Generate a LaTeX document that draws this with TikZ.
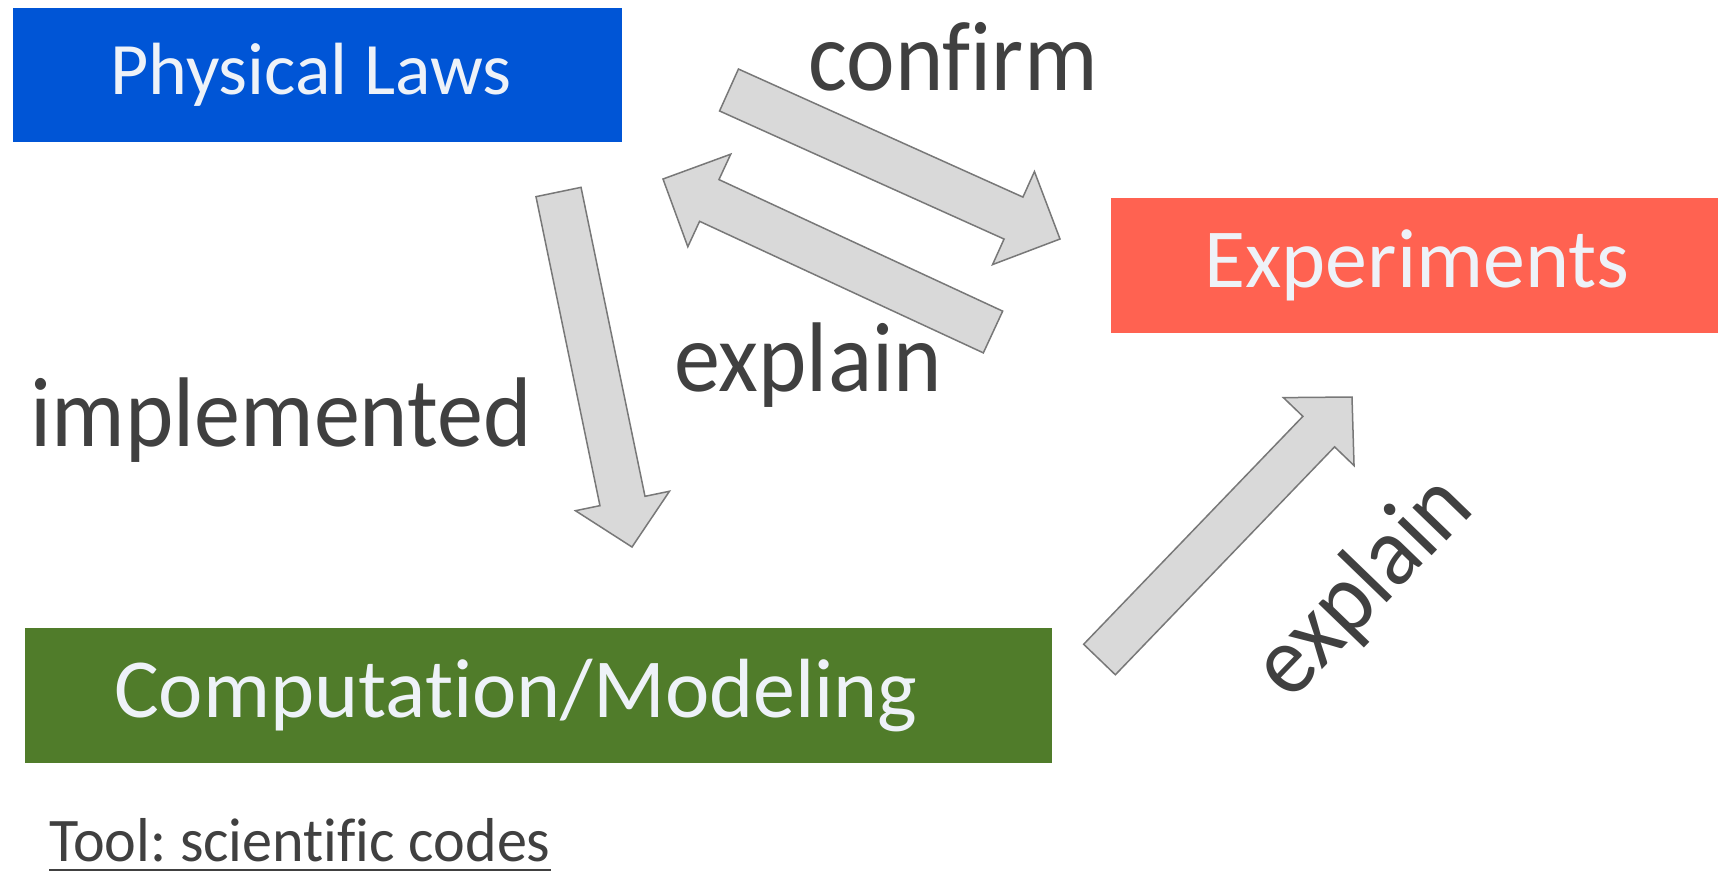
\documentclass[tikz,border=0pt]{standalone}
\usepackage{fontspec}
\setmainfont{Carlito}[Ligatures=CommonOff]
\newfontfamily\labelfont{Carlito}[Ligatures=CommonOff, FakeStretch=0.93]
\newfontfamily\notefont{Carlito}[Ligatures=CommonOff, FakeStretch=0.97]
\usetikzlibrary{calc}

\definecolor{lawblue}{RGB}{0,85,214}
\definecolor{expred}{RGB}{255,98,81}
\definecolor{compgreen}{RGB}{80,124,42}
\definecolor{boxtextcol}{RGB}{238,242,248}
\definecolor{labelgray}{RGB}{64,64,64}
\definecolor{arrowfill}{RGB}{217,217,217}
\definecolor{arrowedge}{RGB}{120,120,120}

\tikzset{
  box/.style={fill=#1, draw=none, inner sep=0pt},
  boxtext/.style={text=boxtextcol, font=\fontsize{74}{80}\selectfont, inner sep=0pt},
  boxtextbig/.style={text=boxtextcol, font=\fontsize{84}{90}\selectfont, inner sep=0pt},
  flowlabel/.style={text=labelgray, font=\labelfont\fontsize{99}{104}\selectfont, inner sep=0pt},
  blockarrow/.style={fill=arrowfill, draw=arrowedge, line width=1.5pt, line join=miter},
  blockshadow/.style={fill=black, fill opacity=0.10, draw=none},
}

% Block arrow from a tail coordinate to a tip coordinate:
% #1 tail, #2 tip, #3 shaft half-width, #4 head half-width, #5 head length
\newcommand\blockarrow[5]{%
  \coordinate (#1-h) at ($(#2)!#5!(#1)$);
  \fill[blockshadow, shift={(2.5,3)}]
    ($(#1)!#3!90:(#2)$) -- ($(#1-h)!#3!90:(#2)$) -- ($(#1-h)!#4!90:(#2)$) -- (#2)
    -- ($(#1-h)!#4!-90:(#2)$) -- ($(#1-h)!#3!-90:(#2)$) -- ($(#1)!#3!-90:(#2)$) -- cycle;
  \draw[blockarrow]
    ($(#1)!#3!90:(#2)$) -- ($(#1-h)!#3!90:(#2)$) -- ($(#1-h)!#4!90:(#2)$) -- (#2)
    -- ($(#1-h)!#4!-90:(#2)$) -- ($(#1-h)!#3!-90:(#2)$) -- ($(#1)!#3!-90:(#2)$) -- cycle;
}

\begin{document}
\frenchspacing
\begin{tikzpicture}[x=1pt, y=-1pt]
  \fill[white] (0,0) rectangle (1718,873);
  \useasboundingbox (0,0) rectangle (1718,873);

  % coloured boxes
  \node[box=lawblue, minimum width=609pt, minimum height=134pt] (laws) at (317.5,75) {};
  \node[boxtext] (lawstext) at (311,75) {Physical Laws};

  \node[box=expred, minimum width=607pt, minimum height=135pt] (exp) at (1414.5,265.5) {};
  \node[boxtextbig] (exptext) at (1417,265.5) {Experiments};

  \node[box=compgreen, minimum width=1027pt, minimum height=135pt] (comp) at (538.5,695.5) {};
  \node[boxtextbig] (comptext) at (516,695.5) {Computation/Modeling};

  % arrow end points
  \coordinate (impl) at (558.5,192);
  \coordinate (impltip) at (632,547);
  \coordinate (conf) at (729,90);
  \coordinate (conftip) at (1060,239);
  \coordinate (expl) at (993,332);
  \coordinate (expltip) at (663,179);
  \coordinate (sim) at (1099.5,659.5);
  \coordinate (simtip) at (1352,397);

  \blockarrow{impl}{impltip}{23pt}{48pt}{47pt}
  \blockarrow{conf}{conftip}{23pt}{51pt}{51pt}
  \blockarrow{expl}{expltip}{23pt}{51pt}{51pt}
  \blockarrow{sim}{simtip}{22pt}{49pt}{48pt}

  % arrow labels
  \node[flowlabel, anchor=base] (lconfirm) at (953,90) {confirm};
  \node[flowlabel, anchor=base] (lexplain) at (808,391) {explain};
  \node[flowlabel, anchor=base] (limpl) at (281,446) {implemented};
  \node[flowlabel, rotate=46] (lexplain2) at (1364,588) {explain};

  % tool note
  \node[text=labelgray, font=\notefont\fontsize{62}{68}\selectfont, inner sep=0pt,
        text depth=0pt, anchor=base west] (tool) at (49,861) {Tool: scientific codes};
  \draw[labelgray, line width=1.6pt] (tool.base west |- 0,870) -- (tool.base east |- 0,870);
\end{tikzpicture}
\end{document}
